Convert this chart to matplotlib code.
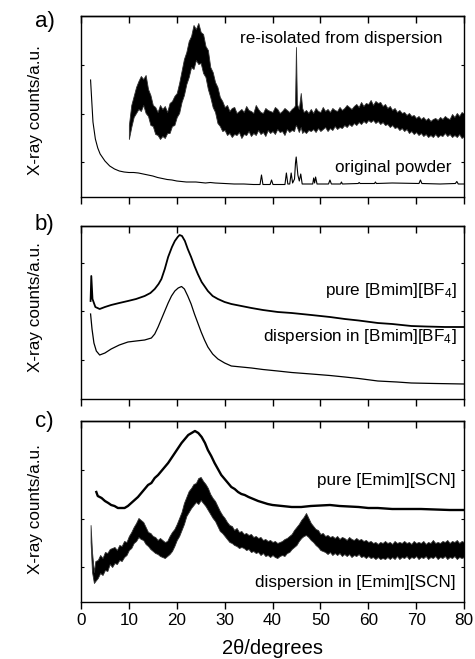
import matplotlib
matplotlib.use("Agg")
import matplotlib.pyplot as plt

plt.rcParams['font.family'] = ['Liberation Sans', 'DejaVu Sans']
plt.rcParams['mathtext.fontset'] = 'custom'
plt.rcParams['mathtext.rm'] = 'Liberation Sans'
plt.rcParams['mathtext.it'] = 'Liberation Sans:italic'

# ---------------- data (values in arbitrary counts) ----------------
# panel a: re-isolated from dispersion (noisy band: lower / upper envelope)
a_re_x = [10.0, 10.5, 11.0, 11.5, 12.0, 12.5, 13.0, 13.5, 14.0, 14.5, 15.0, 15.5, 16.0, 16.5,
          17.0, 17.5, 18.0, 18.5, 19.0, 19.5, 20.0, 20.5, 21.0, 21.5, 22.0, 22.5, 23.0, 23.5,
          24.0, 24.5, 25.0, 25.5, 26.0, 26.5, 27.0, 27.5, 28.0, 28.5, 29.0, 29.5, 30.0, 30.5,
          31.0, 31.5, 32.0, 32.5, 33.0, 33.5, 34.0, 34.5, 35.0, 35.5, 36.0, 36.5, 37.0, 37.5,
          38.0, 38.5, 39.0, 39.5, 40.0, 40.5, 41.0, 41.5, 42.0, 42.5, 43.0, 43.5, 44.0, 44.5,
          44.7, 44.9, 45.1, 45.5, 45.9, 46.2, 46.5, 47.0, 47.5, 48.0, 48.5, 49.0, 49.5, 50.0,
          50.5, 51.0, 51.5, 52.0, 52.5, 53.0, 53.5, 54.0, 54.5, 55.0, 55.5, 56.0, 56.5, 57.0,
          57.5, 58.0, 58.5, 59.0, 59.5, 60.0, 60.5, 61.0, 61.5, 62.0, 62.5, 63.0, 63.5, 64.0,
          64.5, 65.0, 65.5, 66.0, 66.5, 67.0, 67.5, 68.0, 68.5, 69.0, 69.5, 70.0, 70.5, 71.0,
          71.5, 72.0, 72.5, 73.0, 73.5, 74.0, 74.5, 75.0, 75.5, 76.0, 76.5, 77.0, 77.5, 78.0,
          78.5, 79.0, 79.5, 80.0]
a_re_lo = [58, 70, 80, 84, 88, 86, 92, 84, 81, 72, 71, 63, 62, 58,
           61, 59, 64, 64, 71, 72, 80, 84, 95, 102, 113, 120, 130, 128,
           137, 133, 134, 124, 120, 108, 100, 90, 85, 74, 71, 66, 67, 62,
           64, 60, 63, 62, 65, 59, 63, 62, 66, 61, 64, 62, 67, 63,
           65, 61, 67, 64, 66, 63, 68, 65, 66, 62, 68, 65, 67, 66,
           70, 72, 70, 65, 70, 64, 66, 64, 67, 66, 68, 65, 69, 66,
           68, 70, 66, 69, 67, 71, 68, 70, 69, 72, 70, 73, 71, 74,
           72, 75, 73, 76, 74, 77, 75, 77, 74, 76, 73, 75, 72, 73,
           70, 72, 69, 70, 67, 69, 66, 68, 64, 66, 63, 65, 62, 64,
           61, 63, 60, 62, 60, 63, 60, 62, 61, 64, 61, 63, 60, 62,
           60, 63, 59, 61]
a_re_hi = [72, 92, 101, 110, 116, 121, 118, 122, 108, 102, 92, 90, 85, 92,
           88, 91, 85, 94, 96, 101, 104, 114, 126, 138, 145, 156, 161, 172,
           168, 174, 165, 163, 151, 147, 130, 125, 115, 110, 100, 96, 90, 92,
           86, 89, 90, 84, 86, 88, 85, 91, 87, 86, 84, 92, 88, 85,
           84, 89, 87, 86, 85, 90, 88, 84, 86, 89, 87, 85, 88, 90,
           92, 150, 93, 88, 104, 89, 85, 87, 84, 88, 84, 89, 86, 85,
           90, 86, 88, 85, 89, 87, 86, 90, 87, 89, 92, 90, 88, 91,
           93, 90, 95, 91, 94, 93, 97, 92, 96, 94, 95, 91, 93, 89,
           91, 87, 89, 85, 87, 84, 85, 82, 84, 81, 82, 79, 81, 78,
           80, 77, 79, 76, 78, 79, 77, 80, 78, 81, 79, 78, 83, 80,
           84, 81, 85, 83]

# panel a: original powder
a_pw_x = [2.0, 2.2, 2.5, 3.0, 3.5, 4.0, 5.0, 6.0, 7.0, 8.0, 9.0, 10.0, 11.0, 12.0, 13.0,
          14.0, 15.0, 16.0, 17.0, 18.0, 19.0, 20.0, 22.0, 24.0, 25.0, 26.0, 27.0, 28.0,
          30.0, 32.0, 34.0, 36.0, 37.4, 37.7, 38.0, 39.5, 39.8, 40.1, 42.6, 42.9, 43.2,
          43.6, 43.9, 44.2, 44.6, 44.8, 44.95, 45.1, 45.3, 45.6, 45.9, 46.2, 48.4, 48.6,
          48.8, 49.0, 49.3, 51.7, 52.0, 52.3, 54.2, 54.4, 54.6, 57.9, 58.1, 58.3, 61.3,
          61.5, 61.7, 65.0, 70.6, 70.9, 71.2, 75.0, 78.2, 78.5, 78.8, 80.0]
a_pw_y = [117, 100, 75, 58, 49, 43, 36, 31, 28, 26, 25, 24.5, 24.5, 24, 23,
          22, 21, 19.5, 18.5, 17.5, 17, 16, 15, 15, 14.5, 14, 14.5, 14,
          13.5, 13, 13, 12.5, 12.5, 22, 12.5, 12.5, 17, 12.5, 12.5, 24, 13,
          13, 24, 14, 18, 34, 40, 32, 22, 16, 23, 13, 13, 19,
          14, 20, 13, 13, 17, 13, 13, 15, 13, 13.5, 14.5, 13.5, 13.5,
          15, 13.5, 14, 13.5, 17, 13.5, 13, 13.5, 15.5, 13, 13]

# panel b: pure [Bmim][BF4]
b_pure_x = [2.0, 2.15, 2.4, 3.0, 3.9, 5.0, 6.3, 8.0, 9.8, 11.5, 13.3, 14.5, 15.4, 16.2, 16.8,
            17.5, 18.2, 19.0, 19.6, 20.2, 20.6, 21.1, 21.7, 22.3, 23.0, 23.7, 24.4, 25.2,
            26.5, 27.5, 28.6, 30.0, 31.4, 33.5, 35.6, 38.0, 41.1, 44.0, 48.1, 52.0, 55.1,
            58.0, 62.0, 65.0, 69.0, 72.0, 76.0, 80.0]
b_pure_y = [98, 123, 100, 92, 90, 92, 94, 96, 98, 100, 103, 106, 110, 115, 120,
            130, 142, 152, 158, 162, 164, 163, 158, 150, 142, 133, 125, 117,
            108, 103, 100, 97, 95, 93, 91, 89, 87, 86, 84, 82, 80,
            78.5, 76, 75, 73, 72.5, 72, 72]

# panel b: dispersion in [Bmim][BF4]
b_disp_x = [2.0, 2.3, 2.7, 3.2, 3.9, 5.0, 6.3, 8.0, 9.8, 11.5, 13.3, 14.7, 15.4, 16.1, 16.8,
            17.5, 18.2, 18.9, 19.6, 20.3, 21.0, 21.6, 22.3, 23.0, 23.7, 24.4, 25.1, 25.8,
            26.5, 27.5, 28.6, 30.0, 31.4, 33.5, 35.6, 38.0, 41.1, 44.0, 48.1, 52.0, 55.1,
            58.0, 62.0, 66.0, 69.0, 74.0, 80.0]
b_disp_y = [85, 70, 56, 48, 44, 46, 50, 54, 57, 58, 59, 61, 65, 72, 80,
            88, 96, 103, 108, 111, 112.5, 110, 103, 95, 85, 76, 67, 59,
            52, 45, 40, 36, 33, 32, 31, 29.5, 28, 26.5, 25, 23.5, 22,
            20.5, 18, 17, 16, 15.5, 15]

# panel c: pure [Emim][SCN]
c_pure_x = [3.2, 3.5, 4.3, 5.0, 5.7, 6.3, 7.0, 7.7, 8.4, 9.1, 9.8, 10.5, 11.2, 11.9, 12.6,
            13.3, 14.0, 14.7, 15.4, 16.1, 16.8, 17.5, 18.2, 18.9, 19.6, 20.3, 21.0, 21.7,
            22.4, 23.1, 23.8, 24.5, 25.2, 25.9, 26.5, 27.2, 27.9, 28.6, 29.3, 30.0, 30.7,
            31.4, 32.1, 32.8, 33.5, 34.2, 35.0, 36.0, 37.0, 38.0, 39.0, 40.0, 42.0, 44.0,
            46.0, 48.0, 50.0, 52.0, 54.0, 56.0, 58.0, 60.0, 62.0, 65.0, 68.0, 71.0, 74.0,
            77.0, 80.0]
c_pure_y = [110, 106, 104, 101, 99, 97, 96, 94, 94, 94, 96, 99, 102, 105, 109,
            113, 117, 119, 124, 127, 131, 135, 139, 144, 149, 154, 159, 163,
            167, 169, 171, 169, 165, 159, 152, 146, 139, 133, 127, 123, 119,
            115, 113, 110, 108, 107, 105, 103, 101, 99.5, 98, 97, 96, 95,
            95, 96, 96.5, 97, 96, 95.5, 95, 94, 94, 93, 93, 93, 92.5,
            92, 92]

# panel c: dispersion in [Emim][SCN] (noisy band: lower / upper envelope)
c_disp_x = [2.0, 2.3, 2.7, 3.0, 3.5, 4.0, 4.5, 5.0, 5.5, 6.0, 6.5, 7.0, 7.5, 8.0, 8.5,
            9.0, 9.5, 10.0, 10.5, 11.0, 11.5, 12.0, 12.5, 13.0, 13.5, 14.0, 14.5, 15.0,
            15.5, 16.0, 16.5, 17.0, 17.5, 18.0, 18.5, 19.0, 19.5, 20.0, 20.5, 21.0, 21.5,
            22.0, 22.5, 23.0, 23.5, 24.0, 24.5, 25.0, 25.5, 26.0, 26.5, 27.0, 27.5, 28.0,
            28.5, 29.0, 29.5, 30.0, 30.5, 31.0, 31.5, 32.0, 32.5, 33.0, 33.5, 34.0, 34.5,
            35.0, 35.5, 36.0, 36.5, 37.0, 37.5, 38.0, 38.5, 39.0, 39.5, 40.0, 40.5, 41.0,
            41.5, 42.0, 42.5, 43.0, 43.5, 44.0, 44.5, 45.0, 45.5, 46.0, 46.5, 47.0, 47.5,
            48.0, 48.5, 49.0, 49.5, 50.0, 50.5, 51.0, 51.5, 52.0, 52.5, 53.0, 53.5, 54.0,
            54.5, 55.0, 55.5, 56.0, 56.5, 57.0, 57.5, 58.0, 58.5, 59.0, 59.5, 60.0, 60.5,
            61.0, 61.5, 62.0, 62.5, 63.0, 63.5, 64.0, 64.5, 65.0, 65.5, 66.0, 66.5, 67.0,
            67.5, 68.0, 68.5, 69.0, 69.5, 70.0, 70.5, 71.0, 71.5, 72.0, 72.5, 73.0, 73.5,
            74.0, 74.5, 75.0, 75.5, 76.0, 76.5, 77.0, 77.5, 78.0, 78.5, 79.0, 79.5, 80.0]
c_disp_lo = [60, 30, 19, 21, 24, 29, 27, 32, 31, 38, 35, 39, 38, 42, 41,
             45, 47, 52, 54, 59, 61, 65, 63, 62, 58, 56, 53, 51,
             49, 48, 46, 45, 44, 46, 48, 51, 56, 62, 66, 72, 78,
             86, 90, 94, 97, 100, 98, 102, 99, 96, 92, 88, 84, 81,
             76, 71, 69, 66, 63, 60, 59, 57, 56, 54, 55, 54, 52,
             53, 50, 51, 49, 50, 47, 49, 46, 47, 45, 47, 45, 44,
             46, 47, 46, 49, 50, 53, 55, 57, 61, 64, 66, 67, 65,
             62, 60, 57, 55, 52, 51, 50, 48, 50, 47, 49, 47, 49,
             46, 48, 46, 48, 45, 47, 46, 48, 45, 46, 44, 46, 44,
             45, 43, 45, 43, 44, 43, 45, 43, 45, 43, 46, 43, 45,
             44, 46, 43, 45, 44, 46, 43, 45, 44, 46, 43, 45, 44,
             46, 43, 45, 44, 46, 43, 45, 44, 46, 43, 45, 44, 45]
c_disp_hi = [77, 50, 30, 41, 42, 47, 44, 50, 49, 53, 54, 55, 52, 57, 56,
             61, 60, 66, 70, 75, 79, 84, 82, 80, 75, 70, 69, 66,
             65, 62, 64, 62, 60, 61, 66, 70, 73, 78, 84, 90, 99,
             105, 111, 114, 118, 119, 124, 125, 121, 118, 114, 108, 104, 101,
             96, 91, 87, 84, 80, 77, 76, 72, 74, 70, 71, 68, 69,
             67, 68, 65, 66, 64, 65, 62, 63, 61, 62, 60, 61, 59,
             60, 61, 63, 64, 66, 68, 72, 75, 78, 82, 85, 89, 84,
             79, 76, 73, 72, 68, 69, 66, 67, 65, 66, 64, 66, 63,
             65, 64, 62, 65, 63, 62, 64, 62, 63, 61, 62, 60, 61,
             59, 60, 58, 60, 59, 61, 59, 60, 58, 61, 59, 60, 59,
             61, 59, 60, 58, 61, 59, 60, 59, 61, 58, 60, 59, 62,
             59, 60, 59, 61, 60, 62, 59, 61, 60, 62, 59, 61, 60]

xticks = [0, 10, 20, 30, 40, 50, 60, 70, 80]

# ---------------- figure ----------------
W, H = 475, 659
fig = plt.figure(figsize=(W / 100, H / 100), dpi=100)

def add_axes(top_px, bot_px):
    return fig.add_axes([81 / W, 1 - bot_px / H, (464 - 81) / W, (bot_px - top_px) / H])

axA = add_axes(16, 197)
axB = add_axes(226, 399)
axC = add_axes(421, 602)

FS = 12.3
ink = '#000000'

def style(ax, height, yticks, show_labels, ylab_y):
    ax.set_xlim(0, 80)
    ax.set_ylim(0, height)
    ax.set_xticks(xticks)
    ax.tick_params(axis='x', direction='out', length=5, width=1, bottom=True, top=False,
                   labelbottom=show_labels, labelsize=FS, pad=3)
    ax.set_yticks(yticks)
    ax.tick_params(axis='y', direction='in', length=2, width=0.8, left=True, right=True,
                   labelleft=False)
    sec = ax.secondary_xaxis('top')
    sec.set_xticks(xticks)
    sec.tick_params(axis='x', direction='in', length=5, width=1, labeltop=False)
    for sp in list(ax.spines.values()) + list(sec.spines.values()):
        sp.set_linewidth(1.0)
    ax.set_ylabel('X-ray counts/a.u.', fontsize=FS)
    ax.yaxis.set_label_coords(-0.099, ylab_y)

style(axA, 181, [35, 83.5, 132], False, 0.478)
style(axB, 173, [39.5, 88, 136.5], False, 0.529)
style(axC, 181, [35, 83.5, 132], True, 0.514)

# panel a
axA.fill_between(a_re_x, a_re_lo, a_re_hi, facecolor=ink, linewidth=0.6, edgecolor='#333333')
axA.plot(a_pw_x, a_pw_y, color=ink, linewidth=0.8)
axA.text(0.943, 0.873, 're-isolated from dispersion', transform=axA.transAxes,
         ha='right', va='center', fontsize=FS)
axA.text(0.968, 0.165, 'original powder', transform=axA.transAxes,
         ha='right', va='center', fontsize=FS)

# panel b
axB.plot(b_pure_x, b_pure_y, color=ink, linewidth=1.3)
axB.plot(b_disp_x, b_disp_y, color=ink, linewidth=0.9)
axB.text(0.982, 0.627, r'pure [Bmim][BF$_{\mathrm{4}}$]', transform=axB.transAxes,
         ha='right', va='center', fontsize=FS)
axB.text(0.982, 0.360, r'dispersion in [Bmim][BF$_{\mathrm{4}}$]', transform=axB.transAxes,
         ha='right', va='center', fontsize=FS)

# panel c
axC.plot(c_pure_x, c_pure_y, color=ink, linewidth=1.7)
axC.fill_between(c_disp_x, c_disp_lo, c_disp_hi, facecolor=ink, linewidth=0.6, edgecolor='#333333')
axC.text(0.979, 0.674, 'pure [Emim][SCN]', transform=axC.transAxes,
         ha='right', va='center', fontsize=FS)
axC.text(0.979, 0.105, 'dispersion in [Emim][SCN]', transform=axC.transAxes,
         ha='right', va='center', fontsize=FS)
axC.set_xlabel('2θ/degrees', fontsize=14.5, labelpad=8)

# panel letters
for lab, ypx in [('a)', 22), ('b)', 224), ('c)', 421)]:
    fig.text(35 / W, 1 - ypx / H, lab, ha='left', va='center', fontsize=16)

fig.savefig('out.png', dpi=100)
